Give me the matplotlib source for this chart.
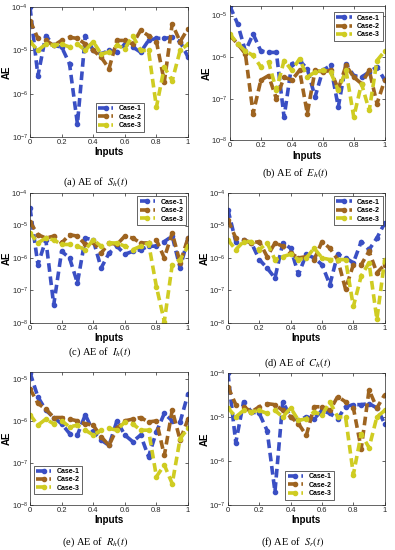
import matplotlib
matplotlib.use("Agg")
import matplotlib.pyplot as plt

plt.rcParams['font.family'] = ['Liberation Sans', 'DejaVu Sans']
plt.rcParams['mathtext.fontset'] = 'stix'

inputs = [0.0, 0.05, 0.1, 0.15, 0.2, 0.25, 0.3, 0.35, 0.4, 0.45, 0.5,
          0.55, 0.6, 0.65, 0.7, 0.75, 0.8, 0.85, 0.9, 0.95, 1.0]

# (a) S_h
sh_case1 = [1.0e-4, 2.6e-6, 2.2e-5, 1.3e-5, 1.2e-5, 4.9e-6, 2.0e-7, 2.2e-5, 1.0e-5, 8.3e-6, 1.0e-5,
            9.1e-6, 1.4e-5, 1.2e-5, 9.1e-6, 1.7e-5, 1.9e-5, 1.9e-5, 2.0e-5, 1.6e-5, 7.0e-6]
sh_case2 = [4.9e-5, 1.9e-5, 1.7e-5, 1.3e-5, 1.7e-5, 2.0e-5, 1.9e-5, 1.4e-5, 1.0e-5, 7.0e-6, 3.8e-6,
            1.7e-5, 1.7e-5, 1.4e-5, 2.9e-5, 2.2e-5, 1.6e-5, 1.9e-6, 4.1e-5, 1.6e-5, 3.2e-5]
sh_case3 = [1.6e-5, 1.0e-5, 1.4e-5, 1.3e-5, 1.4e-5, 1.2e-5, 1.4e-5, 1.0e-5, 1.6e-5, 8.3e-6, 9.1e-6,
            1.3e-5, 1.1e-5, 2.2e-5, 1.0e-5, 1.0e-5, 4.9e-7, 4.1e-6, 2.0e-6, 1.0e-5, 1.4e-5]

# (b) E_h
eh_case1 = [1.7e-5, 6.3e-6, 1.4e-6, 3.6e-6, 1.4e-6, 1.3e-6, 1.3e-6, 3.6e-8, 6.9e-7, 8.3e-7, 5.2e-7,
            1.1e-7, 4.8e-7, 6.3e-7, 6.3e-8, 6.9e-7, 3.6e-7, 3.3e-7, 4.4e-7, 5.8e-7, 2.8e-7]
eh_case2 = [3.3e-6, 2.1e-6, 1.2e-6, 4.4e-8, 2.8e-7, 3.6e-7, 1.0e-7, 3.3e-7, 2.8e-7, 4.8e-7, 4.4e-8,
            4.8e-7, 4.4e-7, 4.8e-7, 1.7e-7, 6.3e-7, 3.3e-7, 2.3e-7, 4.8e-7, 7.6e-8, 2.8e-7]
eh_case3 = [3.6e-6, 2.1e-6, 1.4e-6, 1.1e-6, 5.8e-7, 7.6e-7, 1.6e-7, 8.3e-7, 4.8e-7, 9.1e-7, 3.3e-7,
            4.4e-7, 4.8e-7, 4.4e-7, 1.6e-7, 4.8e-7, 3.6e-8, 2.3e-7, 5.2e-8, 8.3e-7, 1.4e-6]

# (c) I_h
ih_case1 = [3.5e-5, 6.2e-7, 3.6e-6, 3.6e-8, 1.6e-6, 1.0e-6, 1.7e-7, 4.1e-6, 3.6e-6, 4.9e-7, 1.4e-6,
            2.3e-6, 1.3e-6, 1.6e-6, 1.8e-6, 2.3e-6, 2.3e-6, 3.2e-6, 4.7e-6, 4.9e-7, 4.1e-6]
ih_case2 = [1.3e-5, 5.2e-6, 4.1e-6, 4.7e-6, 2.9e-6, 5.2e-6, 4.7e-6, 2.6e-6, 3.2e-6, 1.4e-6, 2.9e-6,
            2.6e-6, 4.7e-6, 4.1e-6, 2.9e-6, 2.9e-6, 3.6e-6, 1.0e-6, 5.9e-6, 7.1e-7, 4.1e-6]
ih_case3 = [5.9e-6, 2.9e-6, 4.1e-6, 3.6e-6, 2.6e-6, 2.6e-6, 2.3e-6, 1.8e-6, 3.6e-6, 2.3e-6, 2.9e-6,
            2.9e-6, 2.3e-6, 1.8e-6, 2.3e-6, 2.9e-6, 1.3e-7, 1.1e-8, 6.2e-7, 8.9e-7, 2.3e-6]

# (d) C_h
ch_case1 = [3.1e-5, 3.2e-6, 3.6e-6, 2.9e-6, 8.9e-7, 4.9e-7, 2.4e-7, 2.9e-6, 2.0e-6, 3.1e-7, 1.3e-6,
            1.0e-6, 6.2e-7, 1.5e-7, 1.3e-6, 1.0e-6, 7.1e-7, 3.2e-6, 1.8e-6, 4.1e-6, 1.2e-5]
ch_case2 = [1.5e-5, 4.1e-6, 3.6e-6, 2.9e-6, 3.2e-6, 1.1e-6, 2.9e-6, 2.3e-6, 1.4e-6, 1.0e-6, 1.1e-6,
            8.9e-7, 3.2e-6, 2.0e-6, 8.9e-7, 1.1e-7, 6.2e-7, 6.2e-7, 1.6e-6, 3.5e-7, 6.2e-7]
ch_case3 = [3.6e-6, 1.8e-6, 3.2e-6, 3.2e-6, 1.8e-6, 2.9e-6, 8.9e-7, 1.1e-6, 1.3e-6, 8.9e-7, 1.0e-6,
            2.0e-6, 1.0e-6, 8.9e-7, 8.9e-7, 8.9e-7, 3.2e-8, 2.8e-7, 7.1e-7, 1.3e-8, 8.9e-7]

# (e) R_h
rh_case1 = [1.4e-5, 3.7e-6, 1.8e-6, 1.2e-6, 8.5e-7, 5.0e-7, 4.6e-7, 1.4e-6, 5.5e-7, 3.5e-7, 2.6e-7,
            1.0e-6, 4.6e-7, 3.2e-7, 4.6e-7, 1.4e-7, 5.5e-7, 1.5e-6, 1.0e-6, 9.4e-7, 4.4e-6]
rh_case2 = [5.8e-6, 2.6e-6, 1.9e-6, 1.2e-6, 1.2e-6, 1.1e-6, 1.0e-6, 8.5e-7, 7.9e-7, 4.2e-7, 2.6e-7,
            6.6e-7, 1.0e-6, 1.1e-6, 1.2e-6, 9.4e-7, 1.0e-6, 1.5e-7, 1.8e-6, 3.5e-7, 1.1e-6]
rh_case3 = [1.4e-6, 7.9e-7, 1.1e-6, 8.5e-7, 1.0e-6, 7.2e-7, 7.9e-7, 6.0e-7, 4.6e-7, 6.0e-7, 6.6e-7,
            6.0e-7, 9.4e-7, 8.5e-7, 6.0e-7, 6.0e-7, 4.7e-8, 8.9e-8, 3.2e-8, 3.8e-7, 6.6e-7]

# (f) S_r  (same curves as S_h in the source figure)
sr_case1 = sh_case1
sr_case2 = sh_case2
sr_case3 = sh_case3

case_names = ["Case-1", "Case-2", "Case-3"]
case_colors = ["#3a4fc4", "#9e6420", "#cfcc22"]

# panel: rect (fig fraction), ylim, legend loc, legend anchor, caption, caption xy (px)
panels = [
    ([0.076, 0.751, 0.400, 0.236], (1e-7, 1e-4), "lower center", (0.57, 0.03),
     "(a) AE of  $S_h(t)$", (96, 182), (sh_case1, sh_case2, sh_case3)),
    ([0.582, 0.745, 0.392, 0.245], (1e-8, 1.75e-5), "upper right", (0.995, 0.96),
     "(b) AE of  $E_h(t)$", (295, 173), (eh_case1, eh_case2, eh_case3)),
    ([0.076, 0.413, 0.400, 0.236], (1e-8, 1e-4), "upper right", (0.995, 0.985),
     "(c) AE of  $I_h(t)$", (100, 352), (ih_case1, ih_case2, ih_case3)),
    ([0.577, 0.413, 0.397, 0.236], (1e-8, 1e-4), "upper right", (0.995, 0.985),
     "(d) AE of  $C_h(t)$", (298, 363), (ch_case1, ch_case2, ch_case3)),
    ([0.076, 0.082, 0.400, 0.242], (1e-8, 1.47e-5), "lower left", (0.015, 0.07),
     "(e) AE of  $R_h(t)$", (95, 542), (rh_case1, rh_case2, rh_case3)),
    ([0.577, 0.082, 0.397, 0.240], (1e-7, 1e-4), "lower center", (0.52, 0.03),
     "(f) AE of  $S_r(t)$", (293, 542), (sr_case1, sr_case2, sr_case3)),
]

W, H = 395, 550
fig = plt.figure(figsize=(W / 100, H / 100), dpi=100)

for rect, ylim, loc, anchor, caption, cxy, series in panels:
    ax = fig.add_axes(rect)
    for vals, name, col in zip(series, case_names, case_colors):
        ax.plot(inputs, vals, linestyle="--", dashes=(2.4, 1.3), lw=2.6,
                color=col, marker="o", ms=3, label=name)
    ax.set_yscale("log")
    ax.set_xlim(0, 1)
    ax.set_ylim(*ylim)
    ax.minorticks_off()
    ax.set_xticks([0, 0.2, 0.4, 0.6, 0.8, 1])
    ax.set_xticklabels(["0", "0.2", "0.4", "0.6", "0.8", "1"])
    ax.tick_params(direction="in", top=True, right=True, labelsize=5.5,
                   length=2.5, width=0.5, pad=1.5, colors="#262626")
    for s in ax.spines.values():
        s.set_linewidth(0.5)
        s.set_color("#262626")
    ax.set_xlabel("Inputs", fontsize=7, fontweight="bold", labelpad=1)
    ax.set_ylabel("AE", fontsize=7, fontweight="bold", labelpad=0)
    leg = ax.legend(loc=loc, bbox_to_anchor=anchor,
                    prop={"weight": "bold", "size": 5}, handlelength=2.2,
                    fancybox=False, framealpha=1, borderpad=0.35,
                    labelspacing=0.2, handletextpad=0.8, borderaxespad=0.2)
    leg.get_frame().set_edgecolor("#262626")
    leg.get_frame().set_linewidth(0.5)
    fig.text(cxy[0] / W, 1 - cxy[1] / H, caption, ha="center", va="center",
             fontsize=7.5, family=["Liberation Serif", "DejaVu Serif"])

fig.savefig("out.png", dpi=100)
